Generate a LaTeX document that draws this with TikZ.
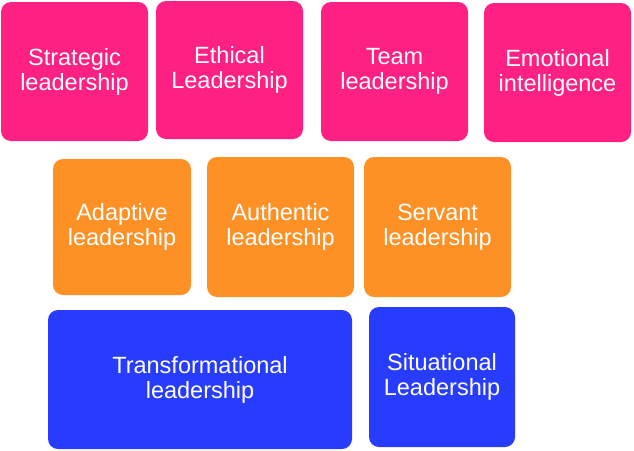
\documentclass[tikz,border=0pt]{standalone}
\usepackage{fontspec}
\setmainfont{Liberation Sans}
\definecolor{hotpink}{HTML}{FE2083}
\definecolor{tangerine}{HTML}{FE9126}
\definecolor{royal}{HTML}{283CFE}
\begin{document}
\begin{tikzpicture}[x=1pt,y=-1pt,
  box/.style={rounded corners=10pt, text=white, align=center,
    font=\fontsize{23.5}{25}\selectfont, inner sep=0pt},
  pinkbox/.style={box, fill=hotpink},
  orangebox/.style={box, fill=tangerine},
  bluebox/.style={box, fill=royal}]
\useasboundingbox (0,0) rectangle (634,450);
\node[pinkbox, minimum width=147pt, minimum height=139pt] (strat) at (74.5,71.5) {Strategic\\leadership};
\node[pinkbox, minimum width=147pt, minimum height=138pt] (eth) at (229.5,70) {Ethical\\Leadership};
\node[pinkbox, minimum width=147pt, minimum height=139pt] (team) at (394.5,71.5) {Team\\leadership};
\node[pinkbox, minimum width=147pt, minimum height=139pt] (emo) at (557.5,72.5) {Emotional\\intelligence};
\node[orangebox, minimum width=138pt, minimum height=136pt] (adapt) at (122,227) {Adaptive\\leadership};
\node[orangebox, minimum width=147pt, minimum height=140pt] (auth) at (280.5,227) {Authentic\\leadership};
\node[orangebox, minimum width=147pt, minimum height=140pt] (serv) at (437.5,227) {Servant\\leadership};
\node[bluebox, minimum width=304pt, minimum height=139pt] (trans) at (200,379.5) {Transformational\\leadership};
\node[bluebox, minimum width=146pt, minimum height=140pt] (sit) at (442,377) {Situational\\Leadership};
\end{tikzpicture}
\end{document}
